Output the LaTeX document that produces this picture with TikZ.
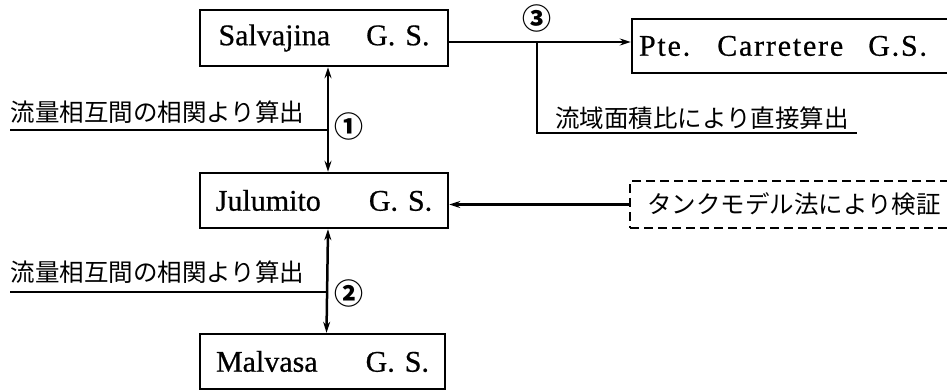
\documentclass[tikz,border=0pt]{standalone}
\usepackage{fontspec}
\setmainfont{Liberation Serif}[FakeBold=0.6]
\newfontfamily\jp{Noto Sans CJK JP}
\usetikzlibrary{arrows.meta}
\tikzset{
 gsbox/.style={draw, line width=2.4pt, inner sep=0pt, font=\fontsize{30}{32}\selectfont},
 jlabel/.style={font=\jp\fontsize{24.5}{26}\selectfont, inner sep=0pt},
 circ/.style={font=\jp\bfseries\fontsize{29}{31}\selectfont, inner sep=0pt},
 conn/.style={line width=2.5pt},
 arr/.style={conn, -{Stealth[length=11pt,width=7pt]}},
 biarr/.style={conn, {Stealth[length=11pt,width=7pt]}-{Stealth[length=11pt,width=7pt]}},
}
\begin{document}
\begin{tikzpicture}[x=1pt,y=-1pt]
\useasboundingbox (0,0) rectangle (947,391);
\clip (0,0) rectangle (947,391);
% boxes
\node[gsbox, minimum width=248pt, minimum height=56pt] (sal) at (324,38) {Salvajina\hspace{36pt}G.\hspace{10pt}S.};
\node[gsbox, minimum width=248pt, minimum height=55pt] (jul) at (324,200.5) {Julumito\hspace{48pt}G.\hspace{10pt}S.};
\node[gsbox, minimum width=245pt, minimum height=55pt] (mal) at (322.5,361.5) {Malvasa\hspace{48pt}G.\hspace{10pt}S.};
\node[gsbox, minimum width=330pt, minimum height=54pt, text width=316pt, align=left] (pte) at (797,46) {\addfontfeature{LetterSpace=6}Pte.\hspace{27pt}Carretere\hspace{25pt}G.S.};
\node[gsbox, dashed, dash pattern=on 9pt off 5pt, minimum width=332pt, minimum height=47pt, text width=298pt, align=left] (tank) at (796,204.5) {\jp\fontsize{24.5}{26}\selectfont タンクモデル法により検証};
% labels
\node[jlabel] (l1) at (157.5,112) {流量相互間の相関より算出};
\node[jlabel] (l2) at (157.5,272) {流量相互間の相関より算出};
\node[jlabel] (l3) at (702,118) {流域面積比により直接算出};
% circled numbers
\node[circ] (c1) at (349,126) {①};
\node[circ] (c2) at (349,293) {②};
\node[circ] (c3) at (537,18) {③};
% vertical connectors
\coordinate (v1) at ([xshift=4pt]sal.south);
\coordinate (v2) at ([xshift=4pt]jul.north);
\coordinate (v3) at ([xshift=4pt]jul.south);
\coordinate (v4) at ([xshift=4pt]mal.north);
\draw[biarr] (v1) -- (v2);
\draw[biarr] (v3) -- (v4);
\coordinate (u1) at (10,130);
\coordinate (u2) at (10,292);
\draw[conn] (u1) -- (u1 -| v1);
\draw[conn] (u2) -- (u2 -| v3);
% to Pte
\coordinate (s3) at ([yshift=-4pt]sal.east);
\draw[arr] (s3) -- (s3 -| pte.west);
\coordinate (br) at (537,42);
\coordinate (brEnd) at (857,133);
\draw[conn] (br) |- (brEnd);
% tank model
\draw[arr] (tank.west) -- (tank.west -| jul.east);
\end{tikzpicture}
\end{document}
